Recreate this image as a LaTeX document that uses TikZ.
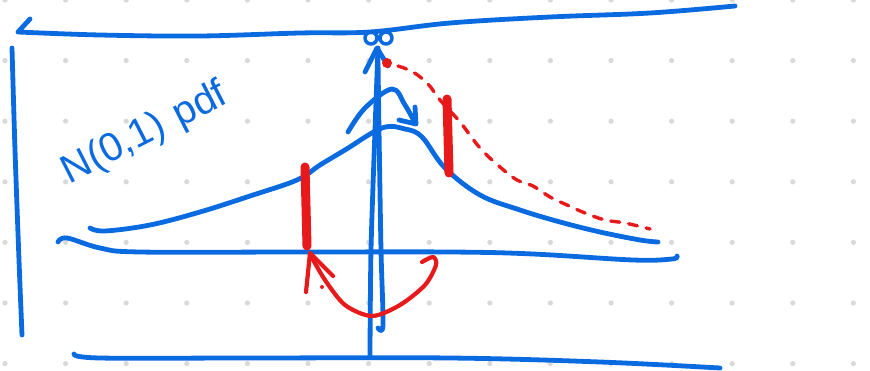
\documentclass[tikz,border=0pt]{standalone}
\usepackage{fontspec}
\setsansfont{Liberation Sans}
\definecolor{skblue}{HTML}{0A6AE0}
\definecolor{skred}{HTML}{E8191A}
\definecolor{dotgray}{HTML}{D9D9D9}
\begin{document}
\begin{tikzpicture}[x={(1pt,0)},y={(0,-1pt)},
  bl/.style={draw=skblue,line width=4.8pt,line cap=round,line join=round},
  rd/.style={draw=skred,line width=4.2pt,line cap=round,line join=round},
  rdbar/.style={draw=skred,line width=9pt,line cap=round},
  rddash/.style={draw=skred,line width=3.4pt,line cap=round,dash pattern=on 9pt off 9pt}]
\useasboundingbox (0,0) rectangle (870,371);
% dot grid
\foreach \i in {0,...,14}{\foreach \j in {0,...,6}{
  \fill[dotgray] ({5+60.6*\i},{60.6*\j}) circle (2.6pt);}}
% top line
\draw[bl] (30,19) -- (18,32) plot[smooth,tension=0.6] coordinates {(18,32) (100,35) (200,36) (300,33) (370,32) (450,23) (550,17) (650,13) (735,6)};
% left vertical line
\draw[bl] plot[smooth] coordinates {(12,48) (15,150) (19,260) (22,335)};
% bottom line
\draw[bl] plot[smooth,tension=0.6] coordinates {(74,354) (100,358) (250,358) (450,358) (600,362) (720,368)};
% horizontal axis
\draw[bl] plot[smooth,tension=0.6] coordinates {(58,242) (67,238) (100,248) (140,252) (300,252) (450,252) (533,254) (633,260) (672,259) (677,256)};
% vertical axis (double stroke)
\draw[bl] plot[smooth] coordinates {(370,355) (371,250) (375,130) (378,48)};
\draw[bl] plot[smooth] coordinates {(378,328) (383,325) (381,250) (379,130) (378,60)};
\draw[bl] (365,72) -- (377,48) -- (388,66);
\draw[bl,line width=3.5pt] (371,38) circle (6pt) (386,38) circle (6pt);
% bell curve
\draw[bl] plot[smooth,tension=0.6] coordinates {(90,228) (105,231) (150,225) (200,212) (250,196) (297,180) (320,165) (345,150) (382,128) (405,129) (422,137) (445,168) (480,195) (520,210) (560,222) (600,232) (640,240) (658,242)};
% blue curved arrow above peak
\draw[bl] plot[smooth,tension=0.6] coordinates {(348,132) (365,108) (392,89) (405,105) (415,123)};
\draw[bl] (415,107) -- (416,124) -- (399,120);
% red dashed tail
\fill[skred] (387,63) circle (5pt);
\draw[rddash] plot[smooth,tension=0.6] coordinates {(398,66) (413,72) (428,84) (440,100) (460,122) (480,148) (500,167) (517,180) (533,186) (550,197) (567,205) (585,213) (605,220) (625,223) (650,229)};
% red bars
\draw[rdbar] (305,167) -- (307,246);
\draw[rdbar] (447,99) -- (449,173);
% red curved arrow below axis
\draw[rd] plot[smooth,tension=0.5] coordinates {(422,262) (433,257) (436,265) (425,285) (400,305) (372,316) (345,305) (325,280) (311,256)};
\draw[rd] (306,292) -- (310,253) -- (333,276);
\fill[skred] (322,287) circle (2pt);
% label
\node[skblue,font=\sffamily\fontsize{40}{46}\selectfont,rotate=27] (lbl) at (145,134) {N(0,1)\,\,pdf};
\end{tikzpicture}
\end{document}
